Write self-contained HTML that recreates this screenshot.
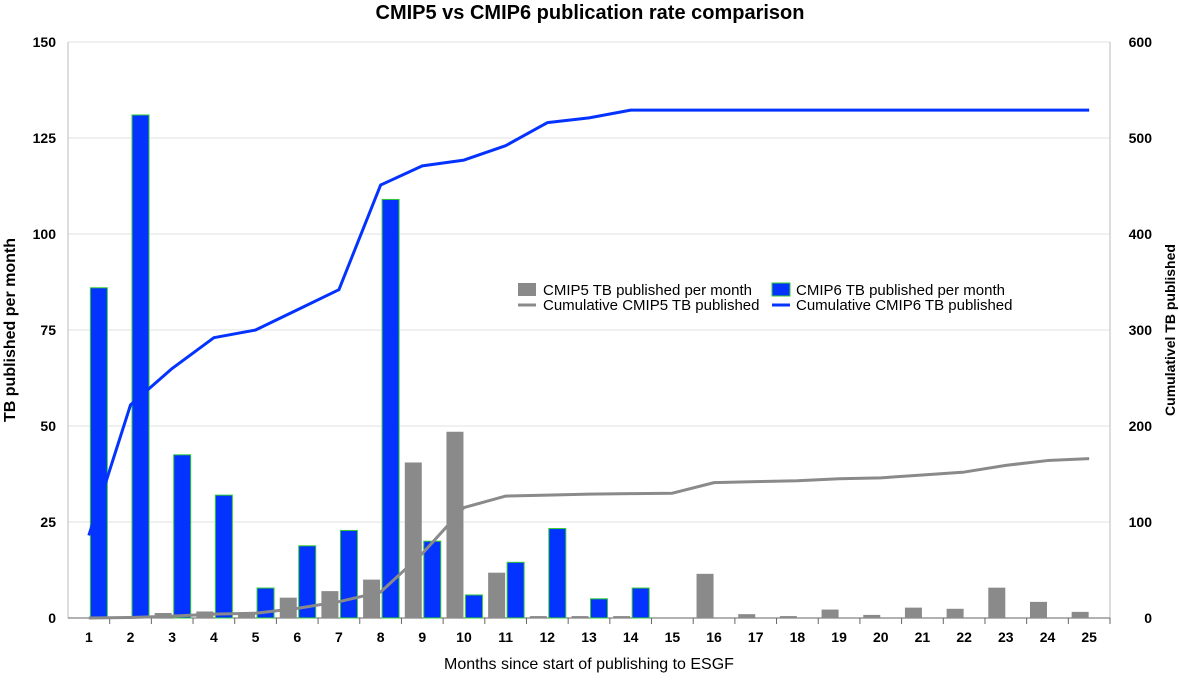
<!DOCTYPE html>
<html><head><meta charset="utf-8"><style>
body{margin:0;background:#fff;font-family:"Liberation Sans",Arial,sans-serif}
svg text{font-family:"Liberation Sans",Arial,sans-serif}
</style></head><body>
<svg id="c" width="1180" height="679"></svg>
<script>
const categories=[1,2,3,4,5,6,7,8,9,10,11,12,13,14,15,16,17,18,19,20,21,22,23,24,25];
const cmip5=[0,0,1.3,1.7,1.5,5.3,7,10,40.5,48.5,11.8,0.5,0.5,0.5,0,11.5,1,0.5,2.2,0.8,2.7,2.4,7.9,4.2,1.6];
const cmip6=[86,131,42.5,32,7.8,18.8,22.8,109,20,6,14.5,23.3,5,7.8,0,0,0,0,0,0,0,0,0,0,0];
const cum5=[0,0.5,2,4,5,10,17,27,67,115,127,128,129,129.5,130,141,142,143,145,146,149,152,159,164,166];
const cum6=[86,222,260,292,300,321,342,451,471,477,492,516,521,529,529,529,529,529,529,529,529,529,529,529,529];
const leftTicks=[0,25,50,75,100,125,150];
const rightTicks=[0,100,200,300,400,500,600];

const NS="http://www.w3.org/2000/svg",svg=document.getElementById('c');
const L=68,R=1110,T=42,B=618,cw=(R-L)/categories.length;
const yl=v=>B-(v/150)*(B-T), yr=v=>B-(v/600)*(B-T), xc=i=>L+(i+0.5)*cw;
function mk(t,a,p){const e=document.createElementNS(NS,t);for(const k in a)e.setAttribute(k,a[k]);(p||svg).appendChild(e);return e;}
leftTicks.forEach(v=>{
 const g=mk('line',{x1:L,x2:R,y1:yl(v),y2:yl(v),stroke:'#e2e2e2'});
 
 
 const t=mk('text',{x:L-12,y:yl(v)+5,'text-anchor':'end','font-size':14,'font-weight':'bold'});t.textContent=v;
 
 
});
rightTicks.forEach(v=>{
 const t=mk('text',{x:R+42,y:yr(v)+5,'text-anchor':'end','font-size':14,'font-weight':'bold'});t.textContent=v;
 
 
});
mk('line',{x1:L,x2:L,y1:T,y2:B,stroke:'#bbb'});
mk('line',{x1:R,x2:R,y1:T,y2:B,stroke:'#bbb'});
mk('line',{x1:L,x2:R,y1:B,y2:B,stroke:'#666'});
categories.forEach((c,i)=>{
 const tk=mk('line',{x1:L+(i+1)*cw,x2:L+(i+1)*cw,y1:B,y2:B+6,stroke:'#666'});
 const t=mk('text',{x:xc(i),y:B+24,'text-anchor':'middle','font-size':14,'font-weight':'bold'});t.textContent=c;
 
 
 const bw=17;
 if(cmip5[i]>0){const b=mk('rect',{x:xc(i)-bw-0.5,y:yl(cmip5[i]),width:bw,height:B-yl(cmip5[i]),fill:'#8a8a8a'});
  
  }
 if(cmip6[i]>0){const b=mk('rect',{x:xc(i)+1.5,y:yl(cmip6[i]),width:bw,height:B-yl(cmip6[i]),fill:'#0433ff',stroke:'#33cc33','stroke-width':1});
  
  }
});
const p5=mk('polyline',{points:cum5.map((v,i)=>xc(i)+','+yr(v)).join(' '),fill:'none',stroke:'#8a8a8a','stroke-width':3,'stroke-linejoin':'round'});


const p6=mk('polyline',{points:cum6.map((v,i)=>xc(i)+','+yr(v)).join(' '),fill:'none',stroke:'#0433ff','stroke-width':3,'stroke-linejoin':'round'});


</script>
<svg width="1180" height="679" style="position:absolute;left:0;top:0">
<text x="590" y="19" text-anchor="middle" font-size="20" font-weight="bold">CMIP5 vs CMIP6 publication rate comparison</text>
<text x="589" y="669" text-anchor="middle" font-size="16">Months since start of publishing to ESGF</text>
<text transform="translate(15,330) rotate(-90)" text-anchor="middle" font-size="16" font-weight="bold">TB published per month</text>
<text transform="translate(1175,330) rotate(-90)" text-anchor="middle" font-size="14" font-weight="bold">Cumulativel TB published</text>
<g font-size="15">
<g><rect x="518" y="283" width="18" height="13" fill="#8a8a8a"/><text x="543" y="295">CMIP5 TB published per month</text></g>
<g><rect x="772" y="283" width="18" height="13" fill="#0433ff" stroke="#33cc33"/><text x="796" y="295">CMIP6 TB published per month</text></g>
<g><line x1="518" x2="536" y1="305" y2="305" stroke="#8a8a8a" stroke-width="3"/><text x="543" y="310">Cumulative CMIP5 TB published</text></g>
<g><line x1="772" x2="790" y1="305" y2="305" stroke="#0433ff" stroke-width="3"/><text x="796" y="310">Cumulative CMIP6 TB published</text></g>
</g>
</svg>
</body></html>
